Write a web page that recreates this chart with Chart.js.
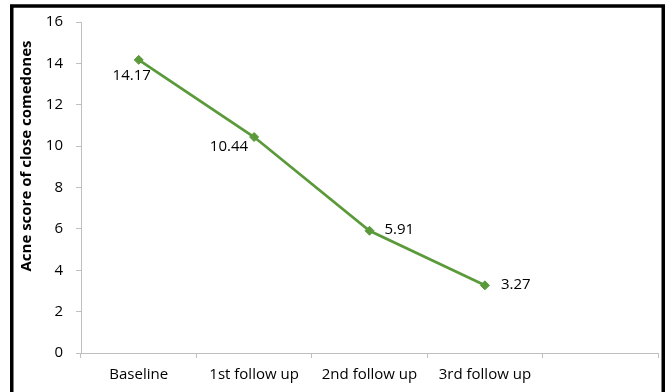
<!DOCTYPE html>
<html>
<head>
<meta charset="utf-8">
<script src="https://cdn.jsdelivr.net/npm/chart.js@4.4.1/dist/chart.umd.min.js"></script>
<style>
  html, body { margin: 0; padding: 0; background: #ffffff; }
  #wrap { width: 669px; height: 392px; position: relative; }
</style>
</head>
<body>
<div id="wrap"><canvas id="c" width="669" height="392"></canvas></div>
<script>
// ---- data ----
const categories = ['Baseline', '1st follow up', '2nd follow up', '3rd follow up', ''];
const acneScores = [14.17, 10.44, 5.91, 3.27];
const yTicks = [0, 2, 4, 6, 8, 10, 12, 14, 16];
const yTitle = 'Acne score of close comedones';

// label placement relative to each point: [dx, dy, align]
const labelPlacement = [
  [-7, 16, 'center'],
  [-6, 10, 'right'],
  [15, -1, 'left'],
  [16, -1, 'left']
];

const FONT = '"Open Sans", "Liberation Sans", sans-serif';
const GREEN = '#5b9a3a';
const AXIS = '#bfbfbf';

const borderPlugin = {
  id: 'frame',
  beforeDraw(chart) {
    const ctx = chart.ctx;
    ctx.save();
    ctx.fillStyle = '#ffffff';
    ctx.fillRect(0, 0, chart.width, chart.height);
    ctx.restore();
  },
  afterDraw(chart) {
    const ctx = chart.ctx;
    ctx.save();
    ctx.strokeStyle = '#000000';
    ctx.lineWidth = 3.5;
    ctx.strokeRect(11.75, 6, 651.5, 395);
    // y axis title
    ctx.translate(27, 156);
    ctx.rotate(-Math.PI / 2);
    ctx.font = 'bold 15px ' + FONT;
    ctx.fillStyle = '#000000';
    ctx.textAlign = 'center';
    ctx.textBaseline = 'middle';
    ctx.fillText(yTitle, 0, 0);
    ctx.restore();
  }
};

const valueLabels = {
  id: 'valueLabels',
  afterDatasetsDraw(chart) {
    const ctx = chart.ctx;
    const meta = chart.getDatasetMeta(0);
    ctx.save();
    ctx.font = '15px ' + FONT;
    ctx.fillStyle = '#000000';
    ctx.textBaseline = 'middle';
    meta.data.forEach((pt, i) => {
      const v = chart.data.datasets[0].data[i];
      if (v === undefined || v === null) return;
      const p = labelPlacement[i];
      ctx.textAlign = p[2];
      ctx.fillText(v.toFixed(2), pt.x + p[0], pt.y + p[1]);
    });
    ctx.restore();
  }
};

new Chart(document.getElementById('c'), {
  type: 'line',
  data: {
    labels: categories,
    datasets: [{
      data: acneScores,
      borderColor: GREEN,
      backgroundColor: GREEN,
      borderWidth: 2.75,
      pointStyle: 'rectRot',
      pointRadius: 4.5,
      pointBorderWidth: 1,
      tension: 0,
      fill: false
    }]
  },
  options: {
    responsive: false,
    animation: false,
    events: [],
    layout: { padding: { top: 20, right: 11, bottom: 0, left: 0 } },
    plugins: { legend: { display: false }, tooltip: { enabled: false } },
    scales: {
      x: {
        type: 'category',
        offset: true,
        grid: { offset: true, drawOnChartArea: false, drawTicks: true, tickLength: 5, color: AXIS },
        border: { color: AXIS, width: 1 },
        ticks: { color: '#000000', font: { family: FONT, size: 15 }, padding: 8, maxRotation: 0, autoSkip: false },
        afterFit(scale) { scale.height = 39; }
      },
      y: {
        min: 0,
        max: 16,
        afterBuildTicks(scale) { scale.ticks = yTicks.map(v => ({ value: v })); },
        grid: { drawOnChartArea: false, drawTicks: true, tickLength: 5, color: AXIS },
        border: { color: AXIS, width: 1 },
        ticks: { color: '#000000', font: { family: FONT, size: 15 }, padding: 13 },
        afterFit(scale) { scale.width = 81; }
      }
    }
  },
  plugins: [borderPlugin, valueLabels]
});
</script>
</body>
</html>
